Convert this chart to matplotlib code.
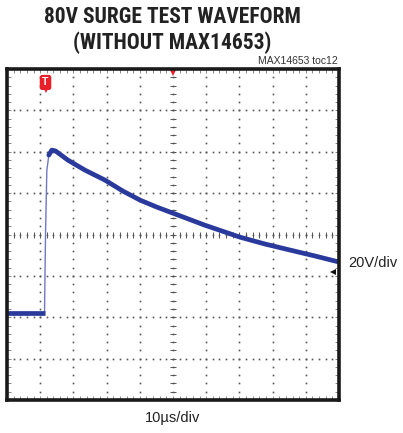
import numpy as np
import matplotlib.pyplot as plt
from matplotlib import font_manager

# waveform: time in us, voltage in V (20V/div, 10us/div)
t_base = [0.0, 5.0, 11.3]
v_base = [-38.0, -38.0, -38.0]
t_rise = [11.3, 11.6, 12.0, 12.6, 13.5]
v_rise = [-38.0, 0.0, 31.0, 38.4, 40.8]
t_decay = [12.6, 13.5, 14.6, 18.4, 23.5, 29.5, 34.9, 40.1, 45.2, 50.0,
           59.6, 70.2, 77.7, 85.2, 92.8, 100.0]
v_decay = [38.4, 40.8, 40.4, 35.9, 31.1, 26.3, 21.0, 16.6, 13.2, 10.3,
           4.5, -1.3, -4.6, -7.5, -10.4, -13.3]

title = "80V SURGE TEST WAVEFORM\n(WITHOUT MAX14653)"
note = "MAX14653 toc12"
xlabel = "10\u00b5s/div"
ylabel = "20V/div"
ref_level = -18.2

# pick a narrow face if one is there
narrow = None
for name in ['Liberation Sans Narrow', 'DejaVu Sans Condensed', 'Roboto Condensed', 'Open Sans Condensed']:
    try:
        font_manager.findfont(font_manager.FontProperties(family=name), fallback_to_default=False)
        narrow = name
        break
    except ValueError:
        pass

fam = ['Liberation Sans', 'DejaVu Sans']
plt.rcParams['font.family'] = fam

fig = plt.figure(figsize=(4.03, 4.33), dpi=100)
ax = fig.add_axes([7/403, 1-400/433, 332/403, 331/433])
ax.set_xlim(0, 100)
ax.set_ylim(-80, 80)
ax.set_xticks([])
ax.set_yticks([])
for s in ax.spines.values():
    s.set_linewidth(2.6)
    s.set_color('#1a1a1a')

gc = '#555555'
# dotted graticule
for k in range(1, 10):
    if k == 5:
        continue
    ys = np.arange(-80, 80.1, 4)
    ax.plot([k*10]*len(ys), ys, ls='none', marker='s', ms=1.2, color=gc, mew=0)
for k in range(-3, 4):
    if k == 0:
        continue
    xs = np.arange(0, 100.1, 2)
    ax.plot(xs, [k*20]*len(xs), ls='none', marker='s', ms=1.2, color=gc, mew=0)
# center cross with minor ticks
xs = np.arange(0, 100.1, 2)
ax.plot(xs, [0]*len(xs), ls='none', marker='|', ms=4, mew=0.7, color=gc)
ax.plot(xs, [0]*len(xs), ls='none', marker='s', ms=1.2, mew=0, color=gc)
ys = np.arange(-80, 80.1, 4)
ax.plot([50]*len(ys), ys, ls='none', marker='_', ms=4, mew=0.7, color=gc)
ax.plot([50]*len(ys), ys, ls='none', marker='s', ms=1.2, mew=0, color=gc)
# edge ticks
ax.plot(xs, [-79.2]*len(xs), ls='none', marker='|', ms=2.5, mew=0.6, color='#777777')
ax.plot(xs, [79.2]*len(xs), ls='none', marker='|', ms=2.5, mew=0.6, color='#777777')
ax.plot([0.6]*len(ys), ys, ls='none', marker='_', ms=2.5, mew=0.6, color='#777777')
ax.plot([99.4]*len(ys), ys, ls='none', marker='_', ms=2.5, mew=0.6, color='#777777')

# waveform
wc = '#2a3a9c'
ax.plot(t_rise, v_rise, color='#6f78c4', lw=1.0, solid_capstyle='butt')
ax.plot(t_base, v_base, color=wc, lw=3.4, solid_capstyle='butt')
ax.plot(t_decay, v_decay, color=wc, lw=3.4, solid_capstyle='round', solid_joinstyle='round')

# markers
ax.plot([50], [78.5], marker='v', ms=6, color='#e8202a', mew=0, clip_on=False)
ax.plot([11.6], [70.0], marker='v', ms=5, color='#e8202a', mew=0)
ax.text(11.6, 73.5, 'T', color='white', fontsize=7.5, fontweight='bold', ha='center', va='center',
        bbox=dict(boxstyle='round,pad=0.18', fc='#e8202a', ec='#e8202a'))
ax.plot([98.2], [ref_level], marker='<', ms=4.5, color='#111111', mew=0)

tfam = [narrow] + fam if narrow else fam
tsize = 15.5 if narrow else 12.5
fig.text(172/403, 1-30/433, title, ha='center', va='center', fontsize=tsize, family=tfam,
         fontweight='bold', linespacing=1.17, color='#222222')
fig.text(338/403, 1-61/433, note, ha='right', va='center', fontsize=7.5, color='#333333')
fig.text(173/403, 1-418/433, xlabel, ha='center', va='center', fontsize=10.5, color='#222222')
fig.text(348/403, 1-263/433, ylabel, ha='left', va='center', fontsize=10.5, color='#222222')

fig.savefig('out.png', dpi=100)
